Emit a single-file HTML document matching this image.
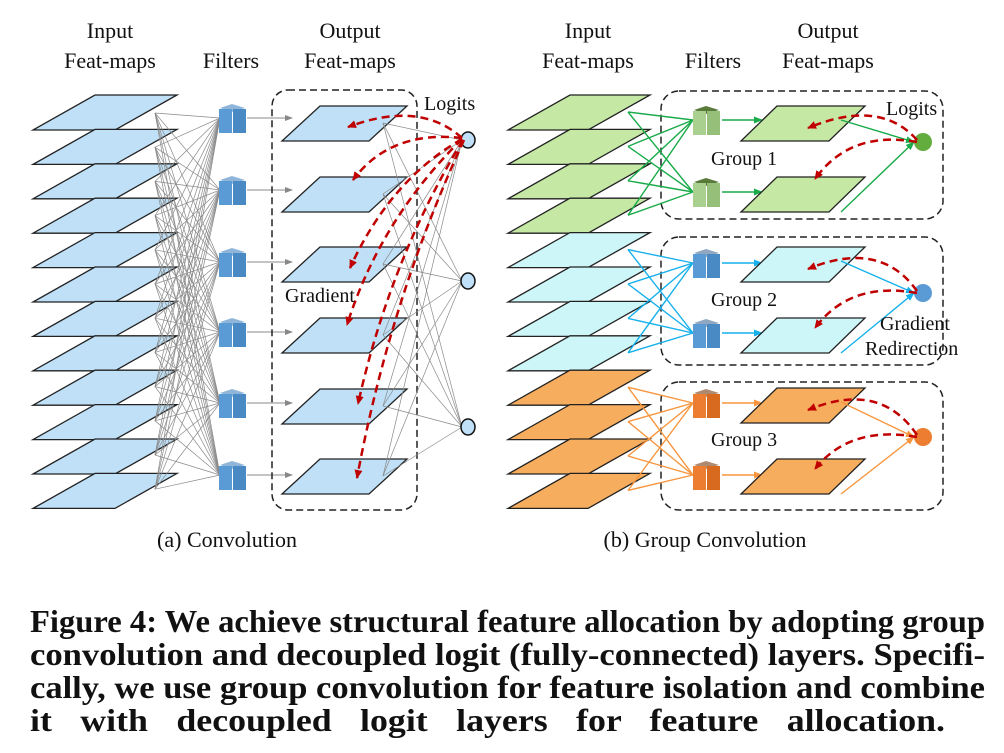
<!DOCTYPE html>
<html><head><meta charset="utf-8">
<style>
html,body{margin:0;padding:0;background:#fff;}
body{width:1004px;height:753px;position:relative;overflow:hidden;}
svg{position:absolute;left:0;top:0;}
.cap{position:absolute;left:30px;font-family:"Liberation Serif",serif;font-weight:bold;font-size:32px;line-height:33px;color:#111;white-space:nowrap;transform-origin:0 0;}
</style></head><body>
<svg id="s" width="1004" height="753" viewBox="0 0 1004 753" font-family="Liberation Serif, serif">
<defs>
<marker id="ag" markerWidth="8" markerHeight="8" refX="7" refY="4" orient="auto" markerUnits="userSpaceOnUse"><path d="M0,1 L8,4 L0,7 Z" fill="#888"/></marker>
<marker id="ar" markerWidth="10" markerHeight="10" refX="8" refY="5" orient="auto" markerUnits="userSpaceOnUse"><path d="M0,1 L9,5 L0,9 Z" fill="#c00000"/></marker>
<marker id="agr" markerWidth="9" markerHeight="9" refX="8" refY="4.5" orient="auto" markerUnits="userSpaceOnUse"><path d="M0,1 L9,4.5 L0,8 Z" fill="#1aab4a"/></marker>
<marker id="abl" markerWidth="9" markerHeight="9" refX="8" refY="4.5" orient="auto" markerUnits="userSpaceOnUse"><path d="M0,1 L9,4.5 L0,8 Z" fill="#16b0ec"/></marker>
<marker id="aor" markerWidth="9" markerHeight="9" refX="8" refY="4.5" orient="auto" markerUnits="userSpaceOnUse"><path d="M0,1 L9,4.5 L0,8 Z" fill="#f7963e"/></marker>
</defs>
<g id="g"></g>
<g font-size="22" fill="#111" text-anchor="middle">
<text x="110" y="38">Input</text><text x="110" y="68">Feat-maps</text>
<text x="231" y="68">Filters</text>
<text x="350" y="38">Output</text><text x="350" y="68">Feat-maps</text>
<text x="588" y="38">Input</text><text x="588" y="68">Feat-maps</text>
<text x="713" y="68">Filters</text>
<text x="828" y="38">Output</text><text x="828" y="68">Feat-maps</text>
<text x="227" y="547">(a) Convolution</text>
<text x="705" y="547">(b) Group Convolution</text>
</g>
<g font-size="20" fill="#111">
<text x="424" y="110">Logits</text>
<text x="285" y="302">Gradient</text>
<text x="886" y="115">Logits</text>
<text x="711" y="165">Group 1</text>
<text x="711" y="306">Group 2</text>
<text x="711" y="446">Group 3</text>
<text x="880" y="330">Gradient</text>
<text x="865" y="355">Redirection</text>
</g>
</svg>
<div class="cap" data-w="955" style="top:605px">Figure 4: We achieve structural feature allocation by adopting group</div>
<div class="cap" data-w="955" style="top:638px">convolution and decoupled logit (fully-connected) layers. Specifi-</div>
<div class="cap" data-w="955" style="top:671px">cally, we use group convolution for feature isolation and combine</div>
<div class="cap" data-w="915" style="top:704px">it with decoupled logit layers for feature allocation.</div>
<script>
var caps=document.querySelectorAll('.cap');
for(var c=0;c<caps.length;c++){var el=caps[c];var w=el.getBoundingClientRect().width;var t=parseFloat(el.getAttribute('data-w'));
 var s=Math.min(t/w,1.12);var n=el.textContent.split(' ').length-1;
 var extra=(t/s-w)/n; if(extra>0) el.style.wordSpacing=extra+'px';
 el.style.transform='scaleX('+s+')';}
var g=document.getElementById('g'),h='';
function para(x,y,w,d,fill){
 return '<polygon points="'+x+','+y+' '+(x+w)+','+y+' '+(x+w-d)+','+(y+35)+' '+(x-d)+','+(y+35)+'" fill="'+fill+'" stroke="#222" stroke-width="1.3"/>';}
function cube(x,cy,front,side,top){
 var y=cy-14;
 return '<polygon points="'+(x+1)+','+(y+4)+' '+(x+13)+','+y+' '+(x+26)+','+(y+4)+' '+(x+13)+','+(y+8)+'" fill="'+top+'"/>'+
 '<rect x="'+x+'" y="'+(y+5)+'" width="13" height="24" fill="'+front+'"/>'+
 '<rect x="'+(x+14)+'" y="'+(y+5)+'" width="13" height="24" fill="'+side+'"/>';}
function line(a,b,c,d,col,w,m){return '<line x1="'+a+'" y1="'+b+'" x2="'+c+'" y2="'+d+'" stroke="'+col+'" stroke-width="'+w+'"'+(m?' marker-end="url(#'+m+')"':'')+'/>';}
function red(d){return '<path d="'+d+'" fill="none" stroke="#c00000" stroke-width="2.5" stroke-dasharray="8,5" marker-end="url(#ar)"/>';}
for(var i=0;i<12;i++){h+=para(95,95+i*34.4,82,62,'#bfe0f7');}
var cys=[118,190,262,332,403,475];
for(var i=0;i<12;i++){var ly=113+i*34.2;for(var k=0;k<6;k++)h+=line(155,ly,220,cys[k],'#8a8a8a',0.7);}
for(var k=0;k<6;k++){h+=cube(219,cys[k],'#5b9bd5','#4a8ac4','#8fb6da');h+=line(247,cys[k],292,cys[k],'#888',1,'ag');}
h+='<rect x="272" y="90" width="145" height="420" rx="16" fill="none" stroke="#222" stroke-width="1.5" stroke-dasharray="7,4"/>';
var ot=[106,177,247,318,389,459];
for(var k=0;k<6;k++)h+=para(320,ot[k],87,38,'#bfe0f7');
var lc=[140,281,427];
for(var k=0;k<6;k++)for(var j=0;j<3;j++)h+=line(383,ot[k]+17,462,lc[j],'#8a8a8a',0.7);
for(var j=0;j<3;j++)h+='<ellipse cx="468" cy="'+lc[j]+'" rx="7" ry="8" fill="#bfe0f7" stroke="#111" stroke-width="1.5"/>';
h+=red('M462,138 Q420,100 348,127');
h+=red('M462,138 Q390,130 353,180');
h+=red('M462,139 Q390,180 350,268');
h+=red('M462,139 Q380,220 347,325');
h+=red('M463,140 Q390,260 358,404');
h+=red('M464,140 Q390,300 357,478');
var cols=['#c5e8a5','#cdf6f9','#f7ad5e'];
for(var i=0;i<12;i++)h+=para(570,95+i*34.4,80,62,cols[Math.floor(i/4)]);
var grp=[{y:91,c:[120,192],o:[106,177],lc:142,col:'#1aab4a',m:'agr',cf:'#a9d08e',cs:'#96c079',ct:'#5a7a3a',cir:'#62ad3e'},
 {y:237,c:[263,333],o:[247,318],lc:293,col:'#16b0ec',m:'abl',cf:'#5b9bd5',cs:'#4a8ac4',ct:'#8fa7c0',cir:'#5b9bd5'},
 {y:382,c:[403,475],o:[388,459],lc:437,col:'#f7963e',m:'aor',cf:'#ed7d31',cs:'#d86a20',ct:'#b08a70',cir:'#ed7d31'}];
for(var q=0;q<3;q++){var G=grp[q];
 h+='<rect x="661" y="'+G.y+'" width="282" height="128" rx="18" fill="none" stroke="#222" stroke-width="1.5" stroke-dasharray="7,4"/>';
 for(var i=0;i<4;i++){var ly=112+(q*4+i)*34.4;for(var k=0;k<2;k++)h+=line(628,ly,693,G.c[k],G.col,1.4);}
 for(var k=0;k<2;k++){h+=cube(693,G.c[k],G.cf,G.cs,G.ct);h+=line(722,G.c[k],762,G.c[k],G.col,1.6,G.m);}
 for(var k=0;k<2;k++)h+=para(777,G.o[k],88,36,cols[q]);
 h+=line(841,G.o[0]+14,914,G.lc,G.col,1.4,G.m);
 h+=line(841,G.o[1]+35,914,G.lc,G.col,1.4,G.m);
 h+='<circle cx="923" cy="'+G.lc+'" r="9" fill="'+G.cir+'"/>';
 h+=red('M917,'+(G.lc-2)+' Q880,'+(G.o[0]-8)+' 808,'+(G.o[0]+22));
 h+=red('M917,'+(G.lc)+' Q850,'+(G.lc-12)+' 815,'+(G.o[1]+2+(q==0?0:8)));
}
g.innerHTML=h;
</script>
</body></html>
